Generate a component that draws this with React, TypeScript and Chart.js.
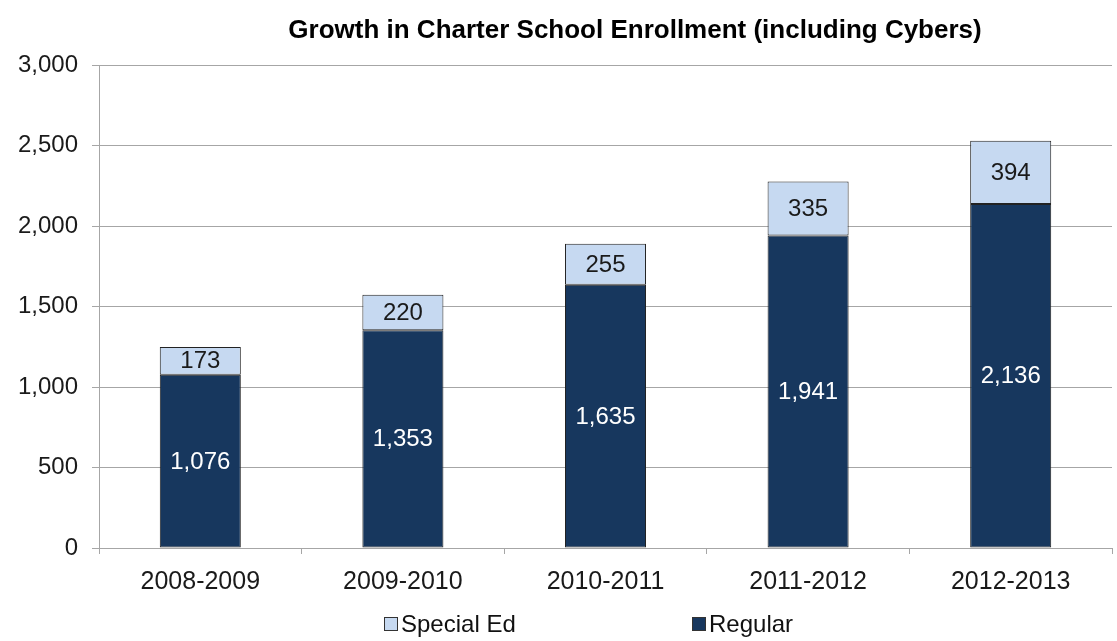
import React, { useEffect, useRef } from "react";
import { Chart, registerables } from "chart.js";

Chart.register(...registerables);

const categories = ["2008-2009", "2009-2010", "2010-2011", "2011-2012", "2012-2013"];
const regularValues = [1076, 1353, 1635, 1941, 2136];
const specialEdValues = [173, 220, 255, 335, 394];
const yTicks = [0, 500, 1000, 1500, 2000, 2500, 3000];
const titleText = "Growth in Charter School Enrollment (including Cybers)";

const FONT = "'Liberation Sans', Arial, sans-serif";
const REGULAR_COLOR = "#17375E";
const SPECIAL_COLOR = "#C6D9F1";

const fmt = (v: number) => v.toLocaleString("en-US");

const overlayPlugin = {
  id: "overlay",
  afterDatasetsDraw(chart: any) {
    const ctx = chart.ctx;
    ctx.save();
    ctx.font = `24px ${FONT}`;
    ctx.textAlign = "center";
    ctx.textBaseline = "middle";
    chart.data.datasets.forEach((ds: any, di: number) => {
      const meta = chart.getDatasetMeta(di);
      meta.data.forEach((bar: any, i: number) => {
        const cy = (bar.y + bar.base) / 2;
        ctx.fillStyle = ds.label === "Regular" ? "#FFFFFF" : "#1a1a1a";
        ctx.fillText(fmt(ds.data[i]), bar.x, cy + 1);
      });
    });
    ctx.restore();
  },
  afterDraw(chart: any) {
    const ctx = chart.ctx;
    ctx.save();
    ctx.font = `bold 26px ${FONT}`;
    ctx.fillStyle = "#000";
    ctx.textAlign = "center";
    ctx.textBaseline = "middle";
    ctx.fillText(titleText, 635, 31);
    const items = [
      { label: "Special Ed", color: SPECIAL_COLOR, x: 384 },
      { label: "Regular", color: REGULAR_COLOR, x: 692 },
    ];
    ctx.font = `24px ${FONT}`;
    ctx.textAlign = "left";
    items.forEach((it) => {
      ctx.fillStyle = it.color;
      ctx.fillRect(it.x, 617, 14, 14);
      ctx.strokeStyle = "#333";
      ctx.lineWidth = 1;
      ctx.strokeRect(it.x + 0.5, 617.5, 13, 13);
      ctx.fillStyle = "#111";
      ctx.fillText(it.label, it.x + 17, 625);
    });
    ctx.restore();
  },
};

export default function App() {
  const ref = useRef<HTMLCanvasElement>(null);
  useEffect(() => {
    if (!ref.current) return;
    const chart = new Chart(ref.current, {
      type: "bar",
      data: {
        labels: categories,
        datasets: [
          {
            label: "Regular",
            data: regularValues,
            backgroundColor: REGULAR_COLOR,
            borderColor: "#222",
            borderWidth: 1,
            borderSkipped: false,
            categoryPercentage: 1,
            barPercentage: 0.4,
          },
          {
            label: "Special Ed",
            data: specialEdValues,
            backgroundColor: SPECIAL_COLOR,
            borderColor: "#222",
            borderWidth: 1,
            borderSkipped: false,
            categoryPercentage: 1,
            barPercentage: 0.4,
          },
        ],
      },
      options: {
        responsive: false,
        animation: false,
        layout: { padding: { top: 65, right: 5, bottom: 0, left: 0 } },
        plugins: {
          legend: { display: false },
          title: { display: false },
          tooltip: { enabled: false },
        },
        scales: {
          x: {
            stacked: true,
            grid: {
              offset: true,
              drawOnChartArea: false,
              drawTicks: true,
              tickLength: 6,
              color: "#A6A6A6",
            },
            border: { color: "#A6A6A6", width: 1 },
            ticks: {
              color: "#1a1a1a",
              font: { family: FONT, size: 25 },
              padding: 13,
            },
            afterFit(scale: any) {
              scale.height = 93;
            },
          },
          y: {
            stacked: true,
            min: 0,
            max: 3000,
            afterBuildTicks(scale: any) {
              scale.ticks = yTicks.map((v) => ({ value: v }));
            },
            grid: {
              color: "#A6A6A6",
              tickLength: 7,
              drawTicks: true,
            },
            border: { color: "#A6A6A6", width: 1 },
            ticks: {
              color: "#1a1a1a",
              font: { family: FONT, size: 24 },
              padding: 14,
              callback: (v: any) => fmt(Number(v)),
            },
            afterFit(scale: any) {
              scale.width = 99;
            },
          },
        },
      },
      plugins: [overlayPlugin],
    });
    return () => chart.destroy();
  }, []);
  return (
    <div style={{ position: "fixed", left: 0, top: 0, width: 1117, height: 641, background: "#fff" }}>
      <canvas ref={ref} width={1117} height={641} style={{ display: "block" }} />
    </div>
  );
}
